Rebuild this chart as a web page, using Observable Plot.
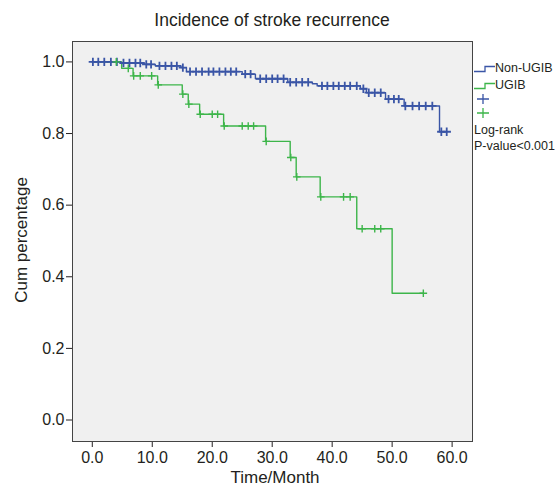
<!DOCTYPE html>
<html>
<head>
<meta charset="utf-8">
<script src="https://cdn.jsdelivr.net/npm/d3@7"></script>
<script src="https://cdn.jsdelivr.net/npm/@observablehq/plot@0.6"></script>
<style>
  html, body { margin: 0; padding: 0; background: #ffffff; }
  #wrap { position: relative; width: 560px; height: 486px; font-family: "Liberation Sans", Arial, sans-serif; color: #231f20; }
  #wrap > svg { position: absolute; left: 0; top: 0; }
  .lbl { position: absolute; white-space: nowrap; }
  .leg svg { position: static; }
</style>
</head>
<body>
<div id="wrap"></div>
<script>
// ---- data ----
const title = "Incidence of stroke recurrence";
const xLabel = "Time/Month";
const yLabel = "Cum percentage";
const xTicks = [0, 10, 20, 30, 40, 50, 60];
const yTicks = [0, 0.2, 0.4, 0.6, 0.8, 1.0];
const groups = ["Non-UGIB", "UGIB"];

// Non-UGIB: event times and survival after each event
const blueEventTimes = [4.8, 8.7, 10.5, 14.8, 15.7, 25.0, 27.2, 32.6, 36.7, 37.5, 44.7, 45.7, 48.9, 52.0, 57.9];
const blueEventSurv  = [0.997, 0.993, 0.989, 0.984, 0.973, 0.966, 0.953, 0.943, 0.939, 0.933, 0.925, 0.914, 0.896, 0.877, 0.805];
const blueCensorTimes = [0.1, 1.0, 2.0, 3.1, 4.1, 5.2, 6.2, 7.2, 8.0, 9.0, 9.8, 11.2, 12.2, 13.2, 14.1, 15.1,
  16.3, 17.3, 18.3, 19.4, 20.2, 21.2, 22.2, 23.1, 24.0, 25.5, 26.4, 28.0, 29.0, 30.0, 30.9, 31.9,
  33.0, 34.0, 35.0, 36.0, 38.3, 39.2, 40.2, 41.1, 42.1, 43.0, 44.1, 45.2, 46.1, 47.1, 48.1,
  49.4, 50.3, 51.1, 52.2, 53.4, 54.5, 55.6, 56.7, 58.2, 59.1];

// UGIB
const greenEventTimes = [4.9, 6.8, 10.9, 15.0, 16.0, 17.9, 21.9, 28.9, 33.0, 34.0, 38.0, 44.1, 50.0];
const greenEventSurv  = [0.982, 0.961, 0.936, 0.910, 0.882, 0.854, 0.821, 0.778, 0.733, 0.679, 0.623, 0.534, 0.354];
const greenCensorTimes = [4.0, 6.0, 6.9, 8.0, 9.9, 11.0, 15.1, 16.1, 18.0, 20.0, 20.9, 22.0, 25.0, 26.0, 26.9,
  29.0, 33.1, 34.1, 38.1, 41.9, 43.0, 45.0, 47.1, 48.1, 55.2];

const colors = ["#3a55a6", "#3db54a"];

// ---- build tables ----
function survAt(times, survs, t) {
  let s = 1;
  for (let i = 0; i < times.length; i++) if (times[i] <= t) s = survs[i];
  return s;
}
function stepTable(group, times, survs, censors) {
  const end = Math.max(times[times.length - 1], censors[censors.length - 1]);
  const rows = [{group, t: 0, s: 1}];
  times.forEach((t, i) => rows.push({group, t, s: survs[i]}));
  rows.push({group, t: end, s: survAt(times, survs, end)});
  return rows;
}
function censorTable(group, times, survs, censors) {
  return censors.map(t => ({group, t, s: survAt(times, survs, t)}));
}
const lines = [
  ...stepTable(groups[0], blueEventTimes, blueEventSurv, blueCensorTimes),
  ...stepTable(groups[1], greenEventTimes, greenEventSurv, greenCensorTimes)
];
const blueMarks = censorTable(groups[0], blueEventTimes, blueEventSurv, blueCensorTimes);
const greenMarks = censorTable(groups[1], greenEventTimes, greenEventSurv, greenCensorTimes);

const plusSymbol = {
  draw(context, size) {
    const r = Math.sqrt(size / Math.PI);
    context.moveTo(-r, 0); context.lineTo(r, 0);
    context.moveTo(0, -r); context.lineTo(0, r);
  }
};

const chart = Plot.plot({
  width: 560,
  height: 486,
  marginLeft: 72,
  marginRight: 88,
  marginTop: 41,
  marginBottom: 45,
  style: {fontFamily: "'Liberation Sans', Arial, sans-serif", fontSize: "16px", color: "#231f20", background: "transparent"},
  x: {domain: [-3.3, 63.4]},
  y: {domain: [-0.06, 1.057]},
  color: {domain: groups, range: colors},
  marks: [
    Plot.frame({fill: "#f0f0f0", stroke: "none"}),
    Plot.axisX({ticks: xTicks, tickFormat: d3.format(".1f"), tickSize: 6, tickPadding: 4, label: null, fontSize: 16, stroke: "#231f20"}),
    Plot.axisY({ticks: yTicks, tickFormat: d3.format(".1f"), tickSize: 6, tickPadding: 2, label: null, fontSize: 16, stroke: "#231f20"}),
    Plot.line(lines, {x: "t", y: "s", z: "group", stroke: "group", curve: "step-after", strokeWidth: 1.4}),
    Plot.dot(blueMarks, {x: "t", y: "s", symbol: plusSymbol, r: 4.2, fill: "none", stroke: colors[0], strokeWidth: 1.8}),
    Plot.dot(greenMarks, {x: "t", y: "s", symbol: plusSymbol, r: 3.8, fill: "none", stroke: colors[1], strokeWidth: 1.4}),
    Plot.frame({stroke: "#444", strokeWidth: 1, fill: "none"})
  ]
});

const wrap = document.getElementById("wrap");
wrap.appendChild(chart);

function addLabel(text, css) {
  const d = document.createElement("div");
  d.className = "lbl";
  d.textContent = text;
  Object.assign(d.style, css);
  wrap.appendChild(d);
  return d;
}
addLabel(title, {left: "0px", width: "544px", top: "9px", lineHeight: "22px", textAlign: "center", fontSize: "17.5px"});
addLabel(xLabel, {left: "0px", width: "550px", top: "467px", lineHeight: "22px", textAlign: "center", fontSize: "17px"});
addLabel(yLabel, {left: "-78px", width: "200px", top: "229px", lineHeight: "22px", textAlign: "center", fontSize: "17px", transform: "rotate(-90deg)"});

// legend
const leg = document.createElement("div");
leg.className = "leg";
leg.style.position = "absolute";
leg.style.left = "474px";
leg.style.top = "60px";
leg.style.fontSize = "12.5px";
leg.style.lineHeight = "16px";
leg.style.whiteSpace = "nowrap";
function stepIcon(c) {
  return `<svg width="21" height="10" style="vertical-align:-1px"><path d="M0,8.5H11V3.5H21" fill="none" stroke="${c}" stroke-width="1.3"/></svg>`;
}
function plusIcon(c) {
  return `<svg width="14" height="12" style="display:block"><path d="M1,6H13M7,1V11" fill="none" stroke="${c}" stroke-width="1.3"/></svg>`;
}
leg.innerHTML =
  `<div style="height:17px">${stepIcon(colors[0])}<span>${groups[0]}</span></div>` +
  `<div style="height:16px">${stepIcon(colors[1])}<span>${groups[1]}</span></div>` +
  `<div style="height:14px;padding-left:2px">${plusIcon(colors[0])}</div>` +
  `<div style="height:14px;padding-left:2px">${plusIcon(colors[1])}</div>` +
  `<div style="margin-top:1px;height:16px">Log-rank</div>` +
  `<div>P-value&lt;0.001</div>`;
wrap.appendChild(leg);
</script>
</body>
</html>
